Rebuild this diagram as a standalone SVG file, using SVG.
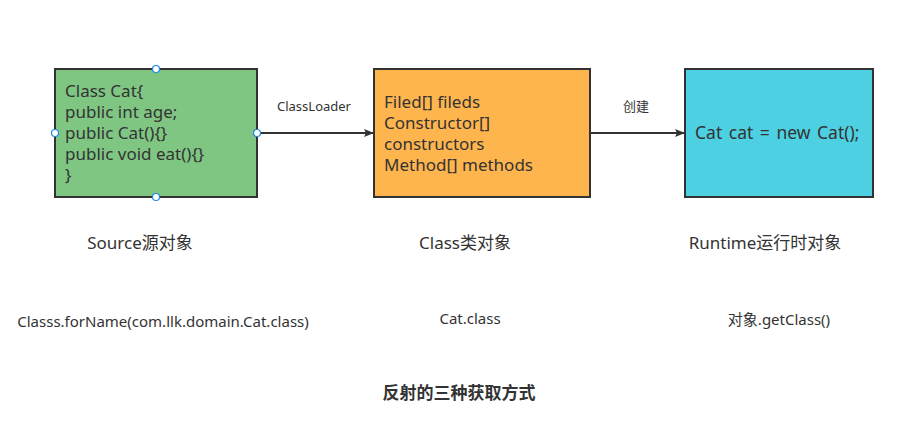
<svg xmlns="http://www.w3.org/2000/svg" width="916" height="438" viewBox="0 0 916 438">
<defs>
<style>
text{font-family:"Noto Sans","Noto Sans CJK SC",sans-serif;fill:#333}
.box{stroke:#323232;stroke-width:2}
.t16{font-size:17px}
.lbl{font-size:13px;text-anchor:middle}
.cap{font-size:17px;text-anchor:middle}
.sub{font-size:15px;text-anchor:middle}
.edge{stroke:#323232;stroke-width:2;fill:none;marker-end:url(#ah)}
.handle{fill:#fff;stroke:#1e88e5;stroke-width:1.2}
</style>
<marker id="ah" markerWidth="10" markerHeight="8" refX="9" refY="4" orient="auto" markerUnits="userSpaceOnUse">
<path d="M0,0 L10,4 L0,8 L2,4 Z" fill="#323232"/>
</marker>
</defs>
<rect width="916" height="438" fill="#fff"/>
<g id="connectors">
<line class="edge" x1="257" y1="133" x2="373" y2="133"/>
<text class="lbl" x="314" y="111">ClassLoader</text>
<line class="edge" x1="590" y1="133" x2="684" y2="133"/>
<text class="lbl" x="636" y="111">创建</text>
</g>
<g id="source">
<rect class="box" x="55" y="69" width="202" height="128" fill="#7fc683"/>
<text class="t16" x="65" y="97">Class Cat{</text>
<text class="t16" x="65" y="118">public int age;</text>
<text class="t16" x="65" y="139">public Cat(){}</text>
<text class="t16" x="65" y="160">public void eat(){}</text>
<text class="t16" x="65" y="181">}</text>
<circle class="handle" cx="156" cy="69" r="3.5"/>
<circle class="handle" cx="55" cy="133" r="3.5"/>
<circle class="handle" cx="257" cy="133" r="3.5"/>
<circle class="handle" cx="156" cy="197" r="3.5"/>
</g>
<g id="classobj">
<rect class="box" x="374" y="69" width="216" height="128" fill="#ffb54d"/>
<text class="t16" x="384" y="108">Filed[] fileds</text>
<text class="t16" x="384" y="129">Constructor[]</text>
<text class="t16" x="384" y="150">constructors</text>
<text class="t16" x="384" y="171">Method[] methods</text>
</g>
<g id="runtime">
<rect class="box" x="685" y="69" width="188" height="128" fill="#4dd0e1"/>
<text class="t16" x="695" y="139" style="font-size:17.5px;word-spacing:2px">Cat cat = new Cat();</text>
</g>
<g id="captions">
<text class="cap" x="140" y="249">Source源对象</text>
<text class="cap" x="465" y="249">Class类对象</text>
<text class="cap" x="765" y="249">Runtime运行时对象</text>
<text class="sub" x="163" y="327">Classs.forName(com.llk.domain.Cat.class)</text>
<text class="sub" x="470" y="324">Cat.class</text>
<text class="sub" x="779" y="325">对象.getClass()</text>
<text x="459" y="399" style="font-size:17px;font-weight:bold;text-anchor:middle">反射的三种获取方式</text>
</g>
</svg>
